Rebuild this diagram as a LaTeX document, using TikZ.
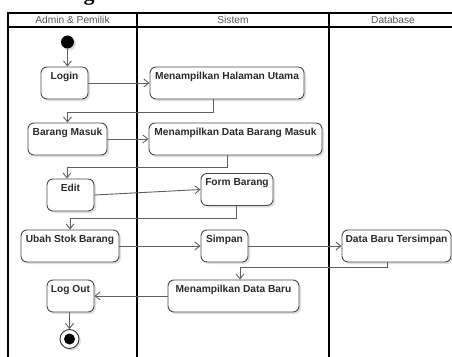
\documentclass[tikz,border=0pt]{standalone}
\usepackage{fontspec}
\setmainfont{Liberation Sans}
\newfontfamily\titlefont{Liberation Serif}
\usepackage{tikz}
\usetikzlibrary{arrows.meta,calc,positioning,shadows}
\definecolor{boxline}{HTML}{4A4A4A}
\definecolor{flowgray}{HTML}{5E5E5E}
\definecolor{lanetext}{HTML}{555555}
\definecolor{acttext}{HTML}{2B2B2B}

\begin{document}
\begin{tikzpicture}[x=1pt,y=-1pt,
    act/.style={draw=boxline,line width=0.9pt,rounded corners=6pt,fill=white,
      drop shadow={shadow xshift=2pt,shadow yshift=-2pt,fill=black!20,opacity=0.6},
      font=\bfseries\fontsize{10.2}{12}\selectfont,text=acttext,
      text height=9pt,text depth=17pt,inner xsep=3pt,inner ysep=3pt},
    flow/.style={draw=flowgray,line width=0.9pt,-{Straight Barb[length=5pt,width=8pt]}},
    lane/.style={font=\fontsize{10.2}{12}\selectfont,text=lanetext}]
    \clip (0,0) rectangle (452,356);
    \useasboundingbox (0,0) rectangle (452,356);
    % swimlanes
    \node[font=\titlefont\bfseries\fontsize{22}{24}\selectfont,anchor=base] (titlecut) at (89,0.5) {g};
    \draw[line width=1.4pt] (460,13) -- (8,13) -- (8,360);
    \draw[line width=1.4pt] (8,27) -- (460,27);
    \draw[line width=1.4pt] (137,13) -- (137,360);
    \draw[line width=1.4pt] (329,13) -- (329,360);
    \node[lane] (laneadmin) at (72.5,20) {Admin \& Pemilik};
    \node[lane] (lanesys) at (233,20) {Sistem};
    \node[lane] (lanedb) at (393,20) {Database};
    % activities
    \node[circle,fill=black,minimum size=13pt,inner sep=0pt,
      drop shadow={shadow xshift=2pt,shadow yshift=-2pt,fill=black!20,opacity=0.6}] (start) at (67.5,42) {};
    \node[act,minimum width=47pt] (login) at (64.5,83) {Login};
    \node[act,minimum width=154pt] (mhu) at (227,83) {Menampilkan Halaman Utama};
    \node[act,minimum width=79pt] (bm) at (67.5,139) {Barang Masuk};
    \node[act,minimum width=173pt] (mdbm) at (235.5,139) {Menampilkan Data Barang Masuk};
    \node[act,minimum width=47pt] (edit) at (70.5,195) {Edit};
    \node[act,minimum width=72pt] (form) at (237,189.5) {Form Barang};
    \node[act,minimum width=98pt] (ubah) at (70,246) {Ubah Stok Barang};
    \node[act,minimum width=47pt] (simpan) at (224.5,246) {Simpan};
    \node[act,minimum width=109pt] (dbt) at (396.5,246) {Data Baru Tersimpan};
    \node[act,minimum width=131pt] (mdb) at (233.5,296) {Menampilkan Data Baru};
    \node[act,minimum width=47pt] (logout) at (70.5,296) {Log Out};
    \node[circle,draw=black!80,line width=0.9pt,fill=white,minimum size=19pt,inner sep=0pt,
      drop shadow={shadow xshift=2pt,shadow yshift=-2pt,fill=black!20,opacity=0.6}] (stop) at (69.5,339) {};
    \node[circle,fill=black,minimum size=11pt,inner sep=0pt] (stopdot) at (stop) {};
    % flows
    \draw[flow] (start) -- (start |- login.north);
    \draw[flow] (login.east) -- (mhu.west);
    \draw[flow] ([xshift=-14pt]mhu.south) -- ++(0,13) -| (bm.north);
    \draw[flow] (bm.east) -- (mdbm.west);
    \draw[flow] ([xshift=-8.5pt]mdbm.south) -- ++(0,12) -| ([xshift=-3.5pt]edit.north);
    \draw[flow] (edit.east) -- (form.west);
    \draw[flow] ([xshift=-1pt]form.south) -- ++(0,12) -| (ubah.north);
    \draw[flow] (ubah.east) -- (simpan.west);
    \draw[flow] (simpan.east) -- (dbt.west);
    \draw[flow] ([xshift=-9.5pt]dbt.south) -- ++(0,5) -| ([xshift=6.5pt]mdb.north);
    \draw[flow] (mdb.west) -- (logout.east);
    \draw[flow] (logout.south -| stop) -- (stop.north);
\end{tikzpicture}
\end{document}
